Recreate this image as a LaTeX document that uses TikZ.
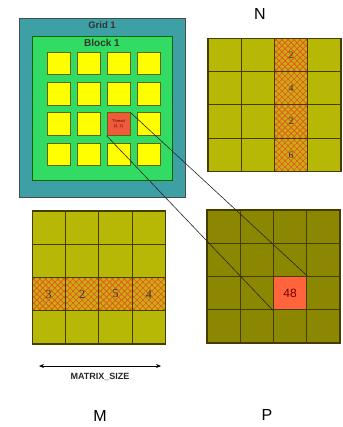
\documentclass[tikz,border=0pt]{standalone}
\usepackage{fontspec}
\setmainfont{Liberation Sans}
\newfontfamily\serifnum{Liberation Serif}
\usetikzlibrary{arrows.meta}
\definecolor{gridteal}{RGB}{60,160,165}
\definecolor{blockgreen}{RGB}{50,220,100}
\definecolor{sqyellow}{RGB}{255,255,0}
\definecolor{sqborder}{RGB}{100,100,0}
\definecolor{threadred}{RGB}{240,90,60}
\definecolor{matlight}{RGB}{183,183,5}
\definecolor{matdark}{RGB}{140,135,0}
\definecolor{gridline}{RGB}{70,60,0}
\definecolor{hatchbase}{RGB}{205,170,20}
\definecolor{hatchline}{RGB}{225,85,30}
\definecolor{redcell}{RGB}{255,100,60}
\tikzset{
  gridbox/.style={draw=black!70,line width=0.6pt,fill=gridteal,inner sep=0pt,minimum width=166pt,minimum height=179pt},
  blockbox/.style={draw=green!40!black,line width=0.6pt,fill=blockgreen,inner sep=0pt,minimum width=140pt,minimum height=144pt},
  sq/.style={draw=sqborder,line width=0.8pt,fill=sqyellow,inner sep=0pt,minimum width=23pt,minimum height=22.5pt},
  thr/.style={draw=sqborder,line width=0.8pt,fill=threadred,inner sep=0pt,minimum width=23pt,minimum height=22.5pt,align=center,text=red!40!black,font=\fontsize{4}{4.6}\selectfont},
  mcell/.style={draw=gridline,line width=1.1pt,fill=#1,inner sep=0pt,minimum width=33.25pt,minimum height=33.25pt},
  hatch/.style={mcell=hatchbase,font=\serifnum\fontsize{10}{12}\selectfont,text=black!80,
    path picture={
      \foreach \k in {-42,-36,...,42}{
        \draw[hatchline,line width=0.65pt] ([xshift=\k pt]path picture bounding box.south west) -- ++(45pt,45pt);
        \draw[hatchline,line width=0.65pt] ([xshift=\k pt]path picture bounding box.north west) -- ++(45pt,-45pt);
      }}},
  lbl/.style={inner sep=0pt,font=\fontsize{16}{18}\selectfont},
  conn/.style={draw=black!85,line width=0.6pt}
}
\begin{document}
\begin{tikzpicture}[x=1pt,y=-1pt]
\useasboundingbox (0,0) rectangle (342,427);
% Grid and block
\node[gridbox] (grid) at (102,107.5) {};
\node[blockbox] (block) at (102,108) {};
\node[inner sep=0pt,font=\bfseries\fontsize{9.5}{10}\selectfont,text=black!80] (gridlbl) at (102,25) {Grid 1};
\node[inner sep=0pt,font=\bfseries\fontsize{10}{11}\selectfont,text=black!80] (blocklbl) at (102,43) {Block 1};
% threads
\foreach \i in {0,...,3}{
  \foreach \j in {0,...,3}{
    \pgfmathsetmacro{\cx}{58.5+30*\i}
    \pgfmathsetmacro{\cy}{63.5+30.3*\j}
    \node[sq] (t-\i-\j) at (\cx,\cy) {};
  }
}
\node[thr] (thread) at (118.5,124.1) {Thread\\(2, 2)};
% N matrix
\foreach \i in {0,...,3}{
  \foreach \j in {0,...,3}{
    \pgfmathsetmacro{\cx}{208+33.25*(\i+0.5)}
    \pgfmathsetmacro{\cy}{38+33.4*(\j+0.5)}
    \node[mcell=matlight] (N-\i-\j) at (\cx,\cy) {};
  }
}
\node[hatch] (Nh0) at (N-2-0) {2};
\node[hatch] (Nh1) at (N-2-1) {4};
\node[hatch] (Nh2) at (N-2-2) {2};
\node[hatch] (Nh3) at (N-2-3) {6};
% M matrix
\foreach \i in {0,...,3}{
  \foreach \j in {0,...,3}{
    \pgfmathsetmacro{\cx}{32+33.4*(\i+0.5)}
    \pgfmathsetmacro{\cy}{211+33.25*(\j+0.5)}
    \node[mcell=matlight] (M-\i-\j) at (\cx,\cy) {};
  }
}
\node[hatch,font=\serifnum\fontsize{12}{14}\selectfont] (Mh0) at (M-0-2) {3};
\node[hatch,font=\serifnum\fontsize{12}{14}\selectfont] (Mh1) at (M-1-2) {2};
\node[hatch,font=\serifnum\fontsize{12}{14}\selectfont] (Mh2) at (M-2-2) {5};
\node[hatch,font=\serifnum\fontsize{12}{14}\selectfont] (Mh3) at (M-3-2) {4};
% P matrix
\foreach \i in {0,...,3}{
  \foreach \j in {0,...,3}{
    \pgfmathsetmacro{\cx}{207+33.25*(\i+0.5)}
    \pgfmathsetmacro{\cy}{210+33.25*(\j+0.5)}
    \node[mcell=matdark] (P-\i-\j) at (\cx,\cy) {};
  }
}
\node[mcell=redcell,font=\fontsize{12}{14}\selectfont,text=red!45!black] (c48) at (P-2-2) {48};
% labels
\node[lbl] (Nlbl) at (260,14) {N};
\node[lbl] (Mlbl) at (100,416) {M};
\node[lbl] (Plbl) at (267,415) {P};
% size arrow
\coordinate (al) at (39,366);
\coordinate (ar) at (161,366);
\draw[line width=0.7pt,{Stealth[length=5pt,width=4pt]}-{Stealth[length=5pt,width=4pt]}] (al) -- (ar);
\node[inner sep=0pt,font=\bfseries\fontsize{9}{10}\selectfont,text=black!85] (msize) at (100,377) {MATRIX\_SIZE};
% connectors
\draw[conn] (thread.north east) -- (c48.north east);
\draw[conn] (thread.south west) -- (c48.south west);
\end{tikzpicture}
\end{document}
